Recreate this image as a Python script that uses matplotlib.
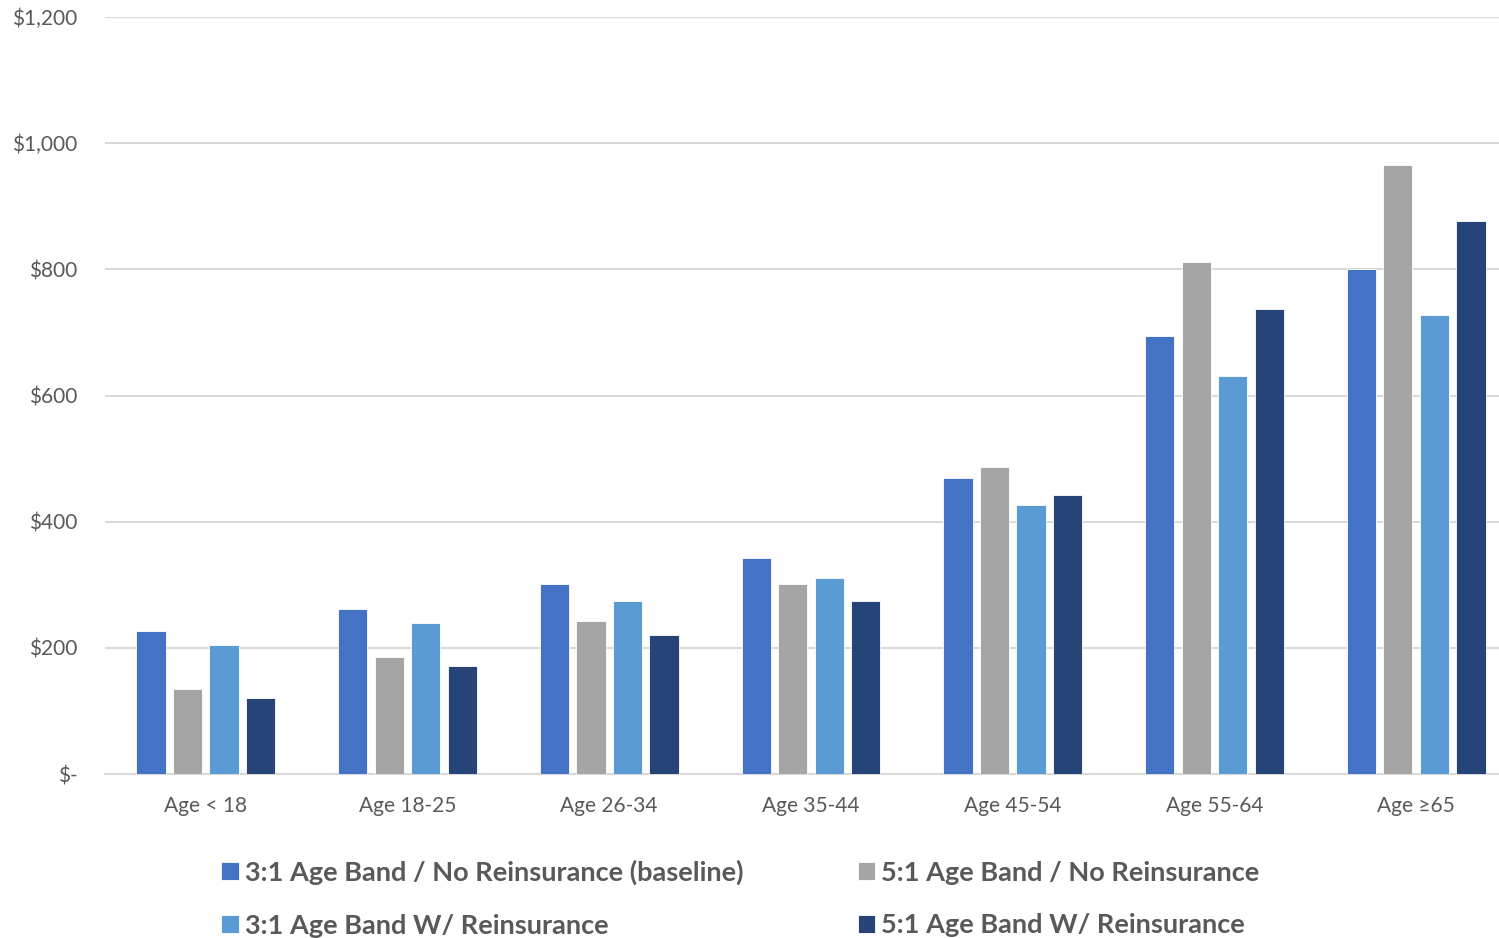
import matplotlib
matplotlib.use('Agg')
import matplotlib.pyplot as plt
import numpy as np

categories = ['Age < 18', 'Age 18-25', 'Age 26-34', 'Age 35-44', 'Age 45-54', 'Age 55-64', 'Age \u226565']
series_names = ['3:1 Age Band / No Reinsurance (baseline)', '5:1 Age Band / No Reinsurance',
                '3:1 Age Band W/ Reinsurance', '5:1 Age Band W/ Reinsurance']
band3_no_re = [226, 262, 301, 342, 469, 695, 801]
band5_no_re = [134, 186, 242, 302, 487, 812, 966]
band3_re = [205, 239, 274, 310, 427, 631, 728]
band5_re = [121, 171, 220, 275, 443, 737, 877]
colors = ['#4472C4', '#A5A5A5', '#5B9BD5', '#264478']
yticks = [0, 200, 400, 600, 800, 1000, 1200]
ytick_labels = ['$-', '$200', '$400', '$600', '$800', '$1,000', '$1,200']

plt.rcParams['font.family'] = ['Lato', 'DejaVu Sans']
txt = '#595959'

fig = plt.figure(figsize=(14.99, 9.38), dpi=100)
# plot area runs a little past the right edge of the picture, as in the source
ax = fig.add_axes([0.070, 0.1748, 0.942, 0.8071])

x = np.arange(len(categories))
w = 0.145
step = 0.181
handles = []
for i, vals in enumerate([band3_no_re, band5_no_re, band3_re, band5_re]):
    b = ax.bar(x + (i - 1.5) * step, vals, w, color=colors[i], edgecolor='white', linewidth=0.6,
               label=series_names[i], zorder=3)
    handles.append(b)

ax.set_xlim(-0.5, len(categories) - 0.5)
ax.set_ylim(0, 1200)
ax.set_yticks(yticks)
ax.set_yticklabels(ytick_labels)
ax.set_xticks(x)
ax.set_xticklabels(categories)
ax.grid(axis='y', color='#D9D9D9', linewidth=1.5, zorder=0)
for s in ['top', 'right', 'left']:
    ax.spines[s].set_visible(False)
ax.spines['bottom'].set_color('#D9D9D9')
ax.spines['bottom'].set_linewidth(1.5)
ax.tick_params(axis='both', length=0, labelsize=15, labelcolor=txt)
ax.tick_params(axis='y', pad=20)
ax.tick_params(axis='x', pad=16)

leg = fig.legend([handles[0], handles[2], handles[1], handles[3]],
                 [series_names[0], series_names[2], series_names[1], series_names[3]],
                 ncol=2, loc='upper left', bbox_to_anchor=(0.1474, 0.0835),
                 frameon=False, borderpad=0, borderaxespad=0,
                 handlelength=0.66, handleheight=0.66, handletextpad=0.22,
                 columnspacing=4.22, labelspacing=1.06,
                 prop={'size': 19.5, 'weight': 'bold'})
for t in leg.get_texts():
    t.set_color(txt)

fig.savefig('out.png', dpi=100)
